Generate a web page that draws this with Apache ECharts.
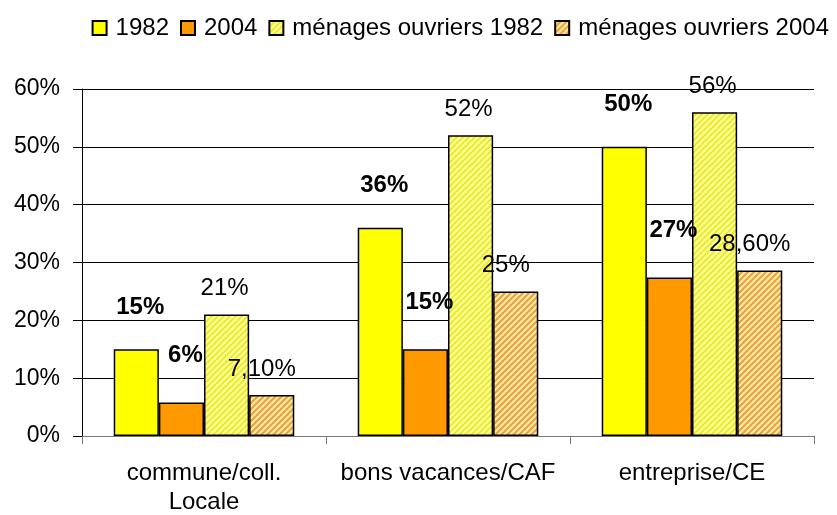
<!DOCTYPE html>
<html>
<head>
<meta charset="utf-8">
<script src="https://cdn.jsdelivr.net/npm/echarts@6/dist/echarts.min.js"></script>
<style>
  html, body { margin: 0; padding: 0; background: #fff; }
  #chart { width: 837px; height: 515px; }
</style>
</head>
<body>
<div id="chart"></div>
<script>
var categories = ["commune/coll.\nLocale", "bons vacances/CAF", "entreprise/CE"];
var yTicks = ["0%", "10%", "20%", "30%", "40%", "50%", "60%"];

var v1982 = [15, 36, 50];
var v2004 = [5.8, 15, 27.4];
var ouv1982 = [21, 52, 56];
var ouv2004 = [7.1, 25, 28.6];

var lab1982 = ["15%", "36%", "50%"];
var lab2004 = ["6%", "15%", "27%"];
var labOuv1982 = ["21%", "52%", "56%"];
var labOuv2004 = ["7,10%", "25%", "28,60%"];

// hatched fills, like the excel pattern
function stripes(bg, fg) {
  var c = document.createElement("canvas");
  c.width = 6; c.height = 6;
  var ctx = c.getContext("2d");
  ctx.fillStyle = bg;
  ctx.fillRect(0, 0, 6, 6);
  ctx.strokeStyle = fg;
  ctx.lineWidth = 2;
  ctx.beginPath();
  ctx.moveTo(-1, 7); ctx.lineTo(7, -1);
  ctx.moveTo(-4, 4); ctx.lineTo(4, -4);
  ctx.moveTo(2, 10); ctx.lineTo(10, 2);
  ctx.stroke();
  return { image: c, repeat: "repeat" };
}

var font = "'Liberation Sans', Arial, sans-serif";
var chart = echarts.init(document.getElementById("chart"));

function barSeries(name, data, labels, color, bold, distance, dx) {
  return {
    name: name,
    type: "bar",
    data: data,
    barGap: "0%",
    barCategoryGap: "26%",
    itemStyle: { color: color, borderColor: "#000", borderWidth: 1.5 },
    label: {
      show: true,
      position: "top",
      distance: distance,
      offset: [dx, 0],
      color: "#000",
      fontFamily: font,
      fontSize: 24,
      fontWeight: bold ? "bold" : "normal",
      formatter: function (p) { return labels[p.dataIndex]; }
    },
    animation: false
  };
}

chart.setOption({
  animation: false,
  textStyle: { fontFamily: font },
  legend: {
    top: 11,
    right: 3,
    itemWidth: 14,
    itemHeight: 14,
    itemGap: 11,
    icon: "rect",
    textStyle: { fontSize: 24, color: "#000", fontFamily: font, padding: [0, 0, 0, 4] },
    data: ["1982", "2004", "ménages ouvriers 1982", "ménages ouvriers 2004"]
  },
  grid: { left: 82, right: 23, top: 89, bottom: 79, outerBoundsMode: "none", containLabel: false },
  xAxis: {
    type: "category",
    data: categories,
    axisLine: { lineStyle: { color: "#777", width: 1 } },
    axisTick: { show: true, length: 8, interval: 0, lineStyle: { color: "#777" } },
    axisLabel: { fontSize: 24, color: "#000", fontFamily: font, margin: 23, lineHeight: 29, interval: 0 }
  },
  yAxis: {
    type: "value",
    min: 0,
    max: 60,
    interval: 10,
    axisLine: { show: true, lineStyle: { color: "#000", width: 1 } },
    axisTick: { show: true, inside: false, length: 9, lineStyle: { color: "#000" } },
    splitLine: { lineStyle: { color: "#000", width: 1 } },
    axisLabel: {
      fontSize: 23, color: "#000", fontFamily: font, margin: 22,
      formatter: function (v) { return yTicks[v / 10]; }
    }
  },
  series: [
    barSeries("1982", v1982, lab1982, "#FFFF00", true, 30, 4),
    barSeries("2004", v2004, lab2004, "#FF9900", true, 35, 4),
    barSeries("ménages ouvriers 1982", ouv1982, labOuv1982, stripes("#FFFF99", "#EAEA30"), false, 14, -2),
    barSeries("ménages ouvriers 2004", ouv2004, labOuv2004, stripes("#FFE9A6", "#E9A23C"), false, 14, -10)
  ]
});
</script>
</body>
</html>
